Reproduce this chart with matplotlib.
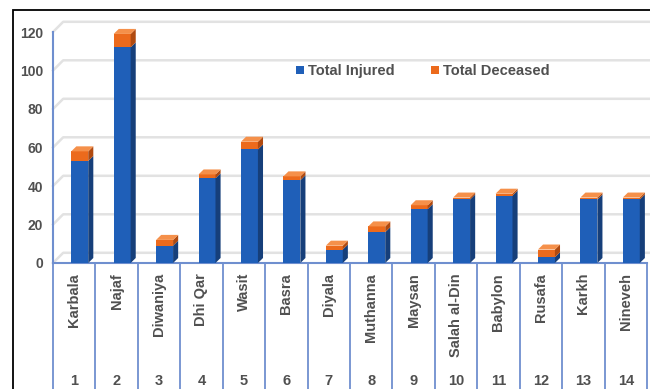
import matplotlib.pyplot as plt
from matplotlib.patches import Polygon, Rectangle
from matplotlib.lines import Line2D

plt.rcParams['font.family'] = ['Liberation Sans Narrow', 'Liberation Sans', 'DejaVu Sans']

# data
regions = ['Karbala', 'Najaf', 'Diwaniya', 'Dhi Qar', 'Wasit', 'Basra', 'Diyala',
           'Muthanna', 'Maysan', 'Salah al-Din', 'Babylon', 'Rusafa', 'Karkh', 'Nineveh']
numbers = list(range(1, 15))
injured = [53, 112, 9, 44, 59, 43, 7, 16, 28, 33, 35, 3, 33, 33]
deceased = [5, 7, 3, 2, 4, 2, 2, 3, 2, 1, 1, 4, 1, 1]
yticks = [0, 20, 40, 60, 80, 100, 120]

blue = ('#1f5fb8', '#163f7a', '#3b78c8')      # front, side, top
orange = ('#ec6a1c', '#b04a10', '#f5904a')
tblue = '#6f8fcf'
txt = '#505050'

W, H = 650, 389
fig = plt.figure(figsize=(6.5, 3.89), dpi=100)
ax = fig.add_axes([53 / W, 1 - 263 / H, 594 / W, 231 / H])
ax.set_xlim(-0.5, 13.5)
ax.set_ylim(0, 120)

# back wall gridlines (shifted for the 3d look)
gx, gy = 0.24, 5.3
for v in yticks:
    ax.add_line(Line2D([-0.5, -0.5 + gx, 14.0], [v, v + gy, v + gy], color='#e2e2e2',
                       lw=1.8, clip_on=False, zorder=0))

# stacked bars with a fake 3d side and top
bw, off, dx, dy = 0.4, 0.13, 0.12, 2.6
for i in range(len(regions)):
    x0 = i + off - bw / 2
    x1 = x0 + bw
    segs = [(0, injured[i], blue), (injured[i], injured[i] + deceased[i], orange)]
    for k, (b, t, c) in enumerate(segs):
        ax.add_patch(Rectangle((x0, b), bw, t - b, fc=c[0], ec='none', zorder=3, clip_on=False))
        ax.add_patch(Polygon([(x1, b), (x1 + dx, b + dy), (x1 + dx, t + dy), (x1, t)],
                             closed=True, fc=c[1], ec='none', zorder=3, clip_on=False))
        if k == 1:
            ax.add_patch(Polygon([(x0, t), (x1, t), (x1 + dx, t + dy), (x0 + dx, t + dy)],
                                 closed=True, fc=c[2], ec='none', zorder=3, clip_on=False))

for s in ['top', 'right', 'bottom']:
    ax.spines[s].set_visible(False)
ax.spines['left'].set_color(tblue)
ax.spines['left'].set_linewidth(1.5)
ax.set_yticks(yticks)
ax.tick_params(axis='y', length=0, pad=7, labelsize=10, labelcolor=txt)
for lab in ax.get_yticklabels():
    lab.set_fontweight('bold')
ax.set_xticks([])

# category table under the axis
ax.add_line(Line2D([-0.5, 13.5], [0, 0], color=tblue, lw=1.5, clip_on=False))
for k in range(len(regions) + 1):
    ax.plot([k - 0.5, k - 0.5], [0, -70], color=tblue, lw=1.3, clip_on=False)
for i, r in enumerate(regions):
    ax.annotate(r, xy=(i, 0), xytext=(0, -10), textcoords='offset pixels',
                rotation=90, ha='center', va='top', fontsize=10.5, fontweight='bold', color=txt)
    ax.annotate(str(numbers[i]), xy=(i, 0), xytext=(0, -118), textcoords='offset pixels',
                ha='center', va='center', fontsize=10.5, fontweight='bold', color=txt)

# legend
lh = [Rectangle((0, 0), 1, 1, fc=blue[0]), Rectangle((0, 0), 1, 1, fc=orange[0])]
fig.legend(lh, ['Total Injured', 'Total Deceased'], loc='center', bbox_to_anchor=(423 / W, 1 - 71 / H),
           ncol=2, frameon=False, handlelength=0.5, handleheight=0.5, handletextpad=0.3,
           columnspacing=2.5, prop={'size': 10.5, 'weight': 'bold'}, labelcolor=txt)

# outer frame, cut off by the image edge
fig.add_artist(Rectangle((13 / W, -0.1), 1.1, 1.1 - 10 / H, transform=fig.transFigure,
                         fill=False, ec='black', lw=1.3))

fig.savefig('out.png', dpi=100)
